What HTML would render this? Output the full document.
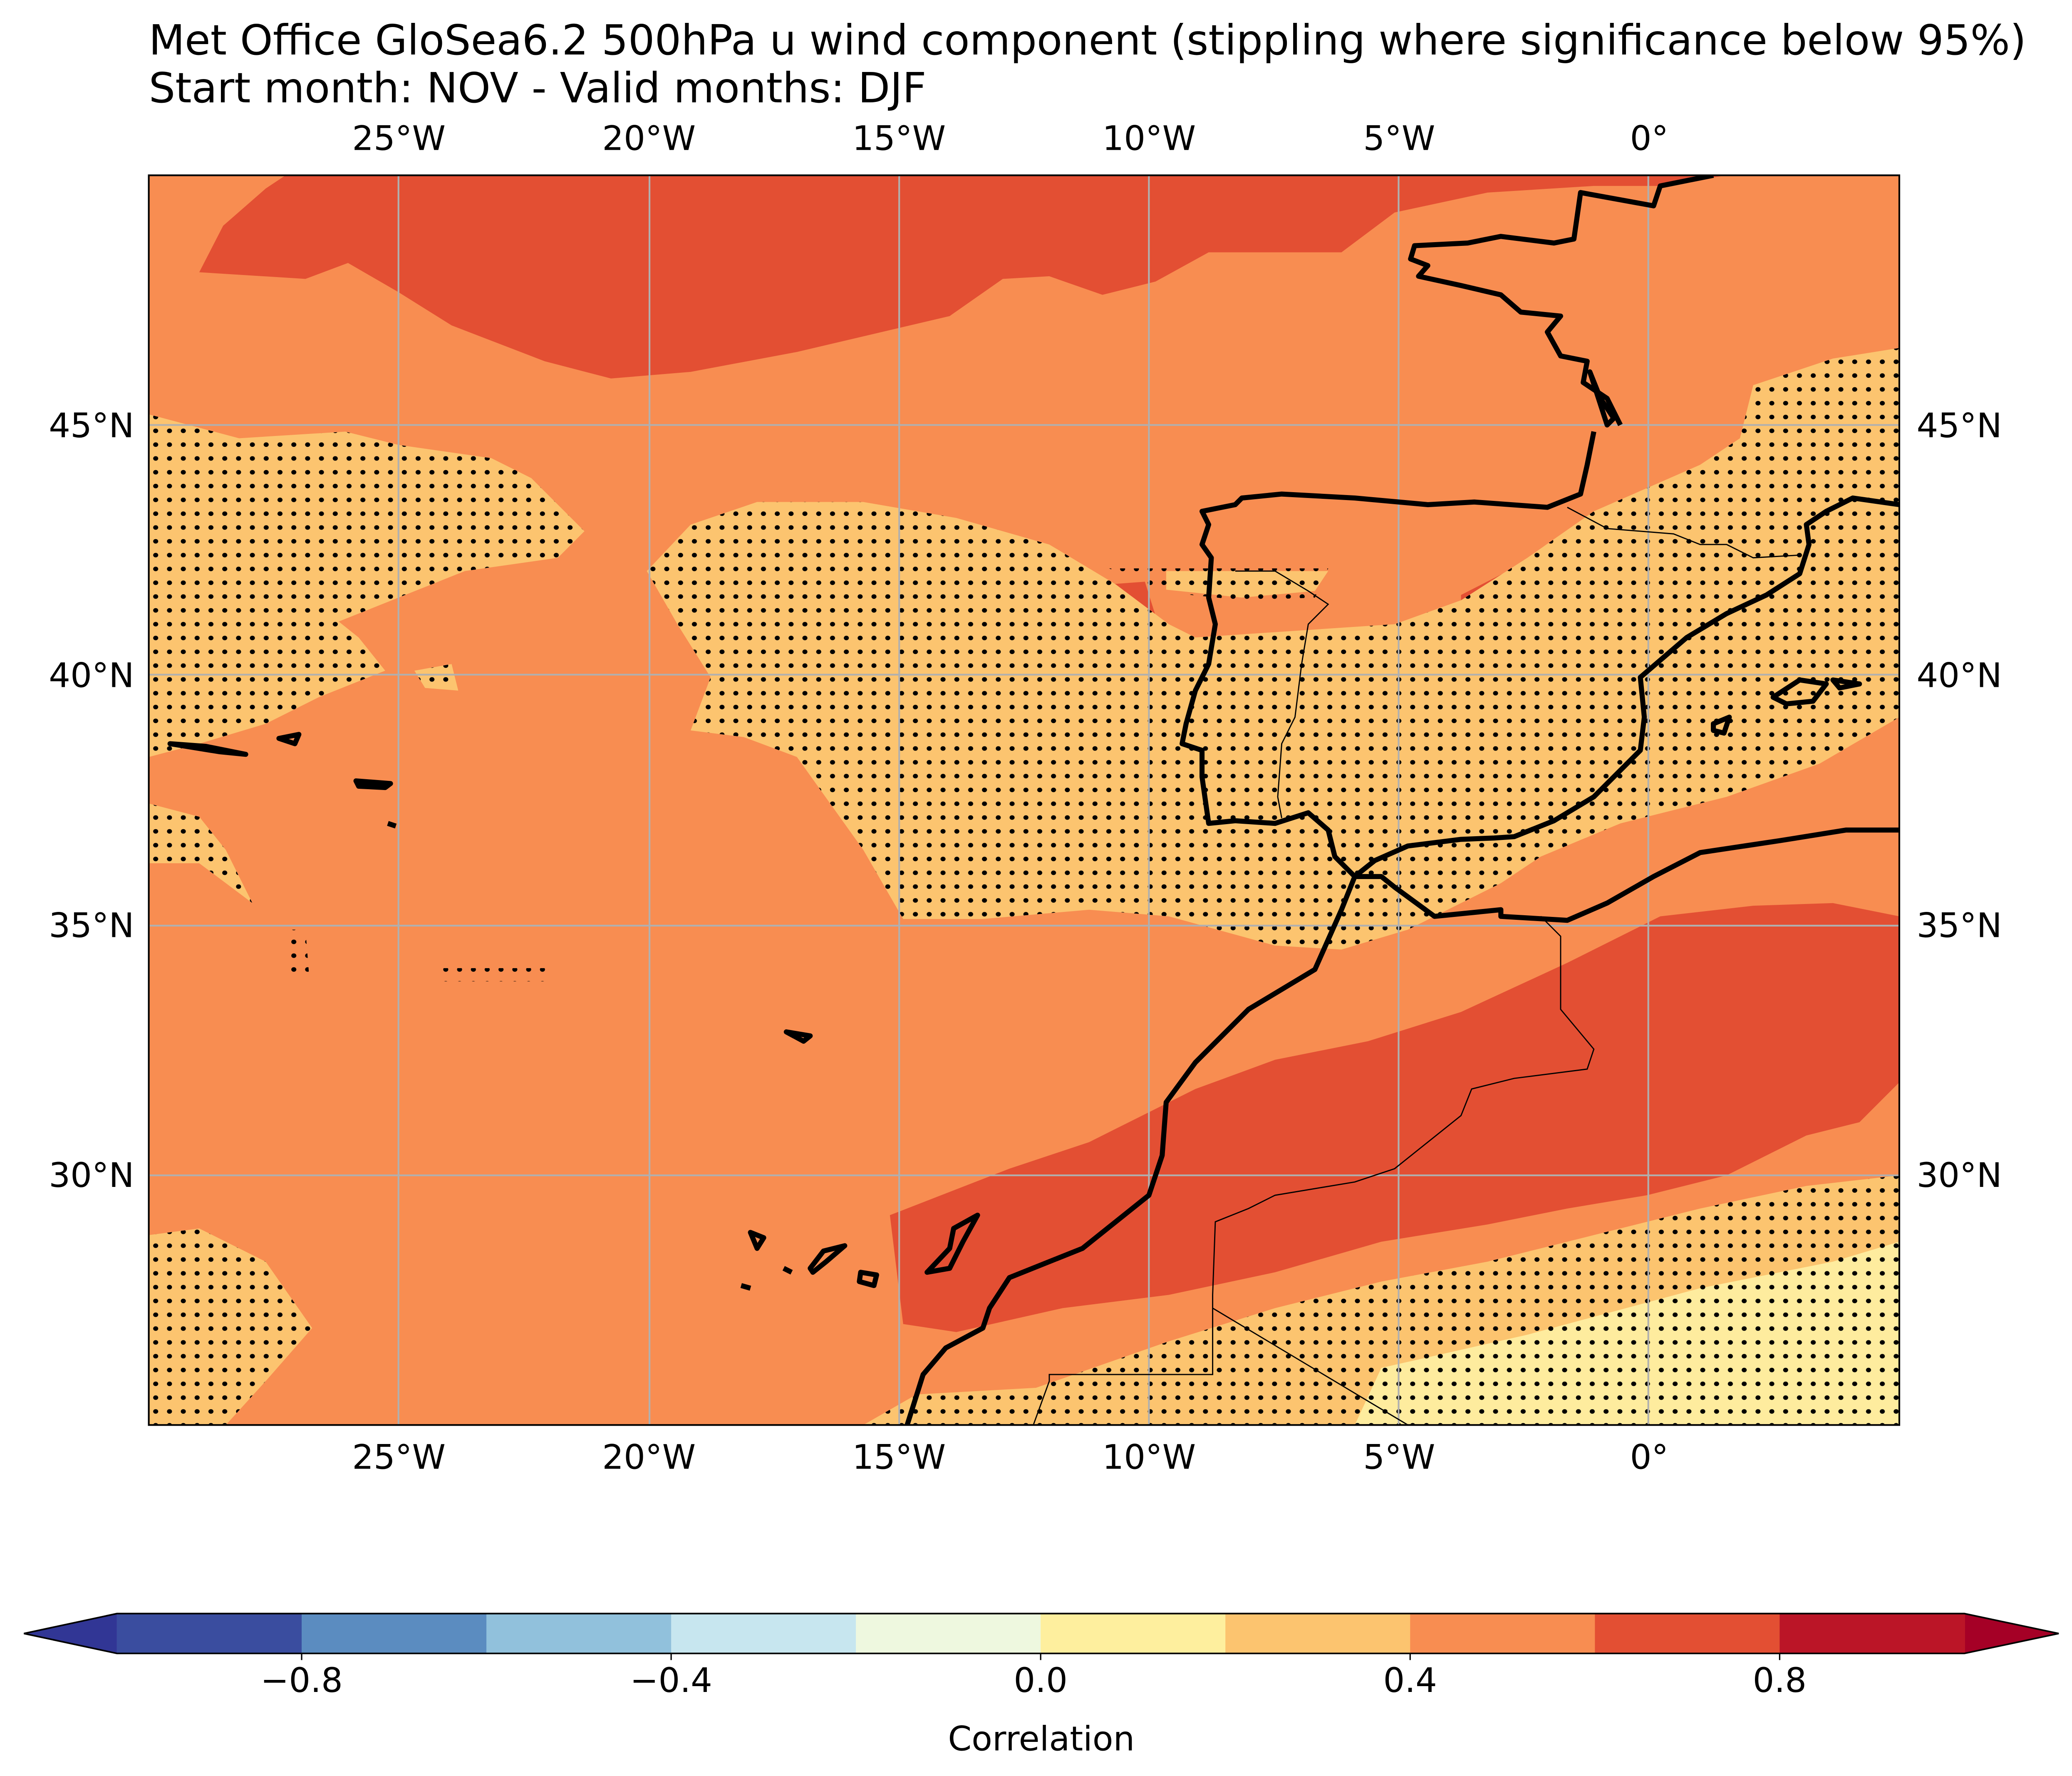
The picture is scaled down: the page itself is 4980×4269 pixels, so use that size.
<!DOCTYPE html>
<html><head><meta charset="utf-8"><style>
html,body{margin:0;padding:0;background:#fff;}
svg{display:block;}
text{font-family:"DejaVu Sans","Liberation Sans",sans-serif;fill:#000;}
</style></head><body>
<svg id="fig" width="4980" height="4269" viewBox="0 0 1560 1337.3" xmlns="http://www.w3.org/2000/svg">
<defs>
<clipPath id="mapclip"><rect x="112" y="132" width="1318" height="941"/></clipPath>
<pattern id="dots" patternUnits="userSpaceOnUse" width="10.4" height="10.4" x="112" y="132">
<ellipse cx="5.2" cy="5.2" rx="1.9" ry="1.7" fill="#000"/>
</pattern>
</defs>
<text x="112" y="41" font-size="31.4">Met Office GloSea6.2 500hPa u wind component (stippling where significance below 95%)</text>
<text x="112" y="77" font-size="31.4">Start month: NOV - Valid months: DJF</text>

<g clip-path="url(#mapclip)">
<rect x="112" y="132" width="1318" height="941" fill="#f88d51"/>
<polygon fill="#e34f33" points="215,132 1300,132 1250,140 1200,140 1120,145 1050,160 1010,190 910,190 870,212 830,222 790,208 755,210 715,238 600,265 520,280 460,285 410,272 340,245 300,220 262,198 230,210 150,205 168,170 200,142"/>
<polygon fill="#e34f33" points="670,915 760,880 820,860 900,820 960,798 1030,784 1100,762 1180,725 1250,690 1320,682 1380,680 1430,690 1430,815 1400,845 1360,855 1300,885 1240,900 1180,910 1120,922 1040,935 960,958 880,975 800,985 720,1003 680,997"/>
<polygon fill="#e34f33" points="835,440 862,438 872,470 850,466"/>
<polygon fill="#e34f33" points="1100,448 1145,425 1130,470 1100,460"/>
<g>
<polygon fill="#fcc46f" points="112,312 180,330 260,325 300,335 370,345 400,360 440,400 420,420 350,430 300,450 255,468 270,480 290,505 240,525 200,545 150,560 112,570"/>
<polygon fill="#fcc46f" points="487,430 520,395 570,378 650,378 720,390 790,410 840,440 880,470 900,480 1050,470 1100,452 1150,420 1200,385 1280,350 1310,330 1320,290 1380,270 1430,262 1430,540 1370,575 1300,600 1220,620 1160,645 1130,665 1060,700 1010,715 960,712 880,690 820,685 740,692 680,692 650,640 600,570 560,555 520,550 535,510 510,470"/>
<polygon fill="#fcc46f" points="878,430 1000,430 990,445 935,450 878,444"/>
<polygon fill="#fcc46f" points="112,605 150,615 170,640 190,680 150,650 112,650"/>
<polygon fill="#fcc46f" points="112,930 150,925 200,950 235,1000 200,1040 170,1073 112,1073"/>
<polygon fill="#fcc46f" points="650,1073 690,1050 780,1045 880,1010 960,985 1040,965 1120,950 1200,930 1280,910 1360,893 1430,885 1430,1073"/>
<polygon fill="#feec9e" points="1020,1073 1040,1030 1150,1005 1280,970 1380,950 1430,935 1430,1073"/>
<polygon fill="#fcc46f" points="312,505 340,500 345,520 320,518"/>
<g fill="url(#dots)">
<polygon points="112,312 180,330 260,325 300,335 370,345 400,360 440,400 420,420 350,430 300,450 255,468 270,480 290,505 240,525 200,545 150,560 112,570"/>
<polygon points="487,430 520,395 570,378 650,378 720,390 790,410 840,440 880,470 900,480 1050,470 1100,452 1150,420 1200,385 1280,350 1310,330 1320,290 1380,270 1430,262 1430,540 1370,575 1300,600 1220,620 1160,645 1130,665 1060,700 1010,715 960,712 880,690 820,685 740,692 680,692 650,640 600,570 560,555 520,550 535,510 510,470"/>
<polygon points="835,428 1000,428 990,450 935,452 878,446"/>
<polygon points="112,605 150,615 170,640 190,680 150,650 112,650"/>
<polygon points="112,930 150,925 200,950 235,1000 200,1040 170,1073 112,1073"/>
<polygon points="650,1073 690,1050 780,1045 880,1010 960,985 1040,965 1120,950 1200,930 1280,910 1360,893 1430,885 1430,1073"/>
<polygon points="312,505 340,500 345,520 320,518"/>
<polygon points="215,700 230,700 233,738 215,738"/>
<rect x="332" y="729" width="82" height="10"/>
</g>
</g>
<g stroke="#b0b0b0" stroke-width="1.3" fill="none">
<line x1="300" y1="132" x2="300" y2="1073"/><line x1="489" y1="132" x2="489" y2="1073"/><line x1="677" y1="132" x2="677" y2="1073"/><line x1="865" y1="132" x2="865" y2="1073"/><line x1="1053" y1="132" x2="1053" y2="1073"/><line x1="1241" y1="132" x2="1241" y2="1073"/>
<line x1="112" y1="320" x2="1430" y2="320"/><line x1="112" y1="508" x2="1430" y2="508"/><line x1="112" y1="697" x2="1430" y2="697"/><line x1="112" y1="885" x2="1430" y2="885"/>
</g>
<g stroke="#000" stroke-width="3.8" fill="none" stroke-linejoin="round">
<polyline points="1290,132 1250,140 1245,155 1190,145 1185,180 1170,183 1130,178 1105,183 1065,185 1062,195 1075,200 1068,208 1100,215 1130,222 1145,235 1175,238 1165,250 1175,268 1195,272 1192,288 1210,300 1220,320"/>
<polyline points="1200,325 1195,350 1190,372 1165,382 1110,378 1075,380 1020,375 965,372 935,375 930,380 905,385 910,395 905,410 912,420 910,450 915,470 910,500 900,520 893,545 890,560 905,565 905,585 910,620 930,618 960,620 985,612 1000,625 1005,645 1020,660 1035,648 1060,637 1100,632 1125,631 1140,630 1170,618 1200,600 1235,565 1238,540 1235,510 1270,480 1300,462 1330,448 1355,432 1362,410 1360,395 1375,385 1395,375 1430,380"/>
<polyline points="1430,625 1390,625 1340,633 1280,642 1245,660 1210,680 1180,693 1130,690 1130,685 1080,690 1050,668 1040,660 1020,660 1010,685 990,730 940,760 900,800 878,830 875,870 865,900 840,920 815,940 790,950 760,962 745,985 740,1000 712,1015 695,1035 683,1073"/>
<path d="M1335,525 L1355,512 L1375,515 L1365,528 L1345,530 Z M1380,512 L1400,515 L1385,518 Z M1290,545 L1302,540 L1298,552 L1290,550 Z M1197,280 L1205,300 L1215,315 L1210,320 Z"/>
<path d="M128,560 L155,562 L185,568 L165,566 Z M210,556 L225,553 L222,560 Z M268,588 L294,590 L290,593 L270,592 Z M292,620 L298,622"/>
<path d="M592,777 L610,780 L605,784 Z M565,928 L575,932 L570,940 Z M590,955 L596,958 M610,955 L620,942 L636,938 L622,950 L612,958 Z M648,958 L660,960 L658,968 L647,965 Z M558,968 L565,970 M698,958 L715,940 L718,925 L736,915 L725,935 L715,955 Z"/>
</g>
<g stroke="#000" stroke-width="0.9" fill="none">
<polyline points="1180,382 1210,398 1260,402 1280,410 1300,410 1320,420 1355,418"/>
<polyline points="930,430 960,430 985,445 1000,455 985,470 980,500 975,540 965,560 962,600 965,616"/>
<polyline points="1160,690 1175,705 1175,760 1200,790 1195,805 1140,812 1108,820 1100,840 1075,860 1050,880 1020,890 990,895 960,900 940,910 915,920 913,975 913,1035 790,1035 790,1040 778,1073"/>
<polyline points="913,985 1060,1073"/>
</g>
</g>
<rect x="112" y="132" width="1318" height="941" fill="none" stroke="#000" stroke-width="1.3"/>
<g id="lonlabels" font-size="25.5" text-anchor="middle"></g>
<g id="latlabels" font-size="25.5"></g>
<g id="colorbar"></g>
<text x="784" y="1318" font-size="25.5" text-anchor="middle">Correlation</text>
</svg>
<script>
const lonTicks = [-25, -20, -15, -10, -5, 0];
const lonTickLabels = ["25°W", "20°W", "15°W", "10°W", "5°W", "0°"];
const latTicks = [45, 40, 35, 30];
const latTickLabels = ["45°N", "40°N", "35°N", "30°N"];
const levels = [-1, -0.8, -0.6, -0.4, -0.2, 0, 0.2, 0.4, 0.6, 0.8, 1];
const levelColors = ["#3a4d9f","#5b8cc0","#91c1dc","#c7e6ef","#eef8df","#feef9e","#fcc46f","#f88d51","#e34f33","#bb1527"];
const cbTicks = [-0.8, -0.4, 0.0, 0.4, 0.8];
const cbTickLabels = ["\u22120.8", "\u22120.4", "0.0", "0.4", "0.8"];
const NS = "http://www.w3.org/2000/svg";
function xLon(l){ return 112 + (l + 30) * 1318 / 35; }
function yLat(l){ return 132 + (50 - l) * 941 / 25; }
function xCb(v){ return 88 + (v + 1) * (1479 - 88) / 2; }
function mk(tag, attrs, parent){ const e=document.createElementNS(NS,tag); for(const k in attrs) e.setAttribute(k,attrs[k]); parent.appendChild(e); return e; }
const lonG=document.getElementById('lonlabels');
lonTicks.forEach((l,i)=>{
  [113,1106].forEach((ty)=>{
    const tx=mk('text',{x:xLon(l),y:ty},lonG);
    
    
    tx.textContent=lonTickLabels[i];
  });
});
const latG=document.getElementById('latlabels');
latTicks.forEach((l,i)=>{
  const a=mk('text',{x:101,y:yLat(l)+9,'text-anchor':'end'},latG);
  
  
  a.textContent=latTickLabels[i];
  const b=mk('text',{x:1443,y:yLat(l)+9},latG);
  
  
  b.textContent=latTickLabels[i];
});
const cb=document.getElementById('colorbar');
const y0=1215,y1=1245;
const lt=mk('polygon',{points:`${xCb(-1)},${y0} ${xCb(-1)},${y1} 18,${(y0+y1)/2}`,fill:'#313695'},cb);


const rt=mk('polygon',{points:`${xCb(1)},${y0} ${xCb(1)},${y1} 1550,${(y0+y1)/2}`,fill:'#a50026'},cb);


for(let i=0;i<levelColors.length;i++){
  const r=mk('rect',{x:xCb(levels[i]),y:y0,width:xCb(levels[i+1])-xCb(levels[i])+0.5,height:y1-y0,fill:levelColors[i]},cb);
  
  
}
mk('polygon',{points:`${xCb(-1)},${y0} ${xCb(1)},${y0} 1550,${(y0+y1)/2} ${xCb(1)},${y1} ${xCb(-1)},${y1} 18,${(y0+y1)/2}`,fill:'none',stroke:'#000','stroke-width':1.2},cb);
cbTicks.forEach((v,i)=>{
  mk('line',{x1:xCb(v),x2:xCb(v),y1:y1,y2:y1+5,stroke:'#000','stroke-width':1},cb);
  const t=mk('text',{x:xCb(v),y:y1+29,'font-size':25.5,'text-anchor':'middle'},cb);
  
  
  t.textContent=cbTickLabels[i];
});
</script>
</body></html>
